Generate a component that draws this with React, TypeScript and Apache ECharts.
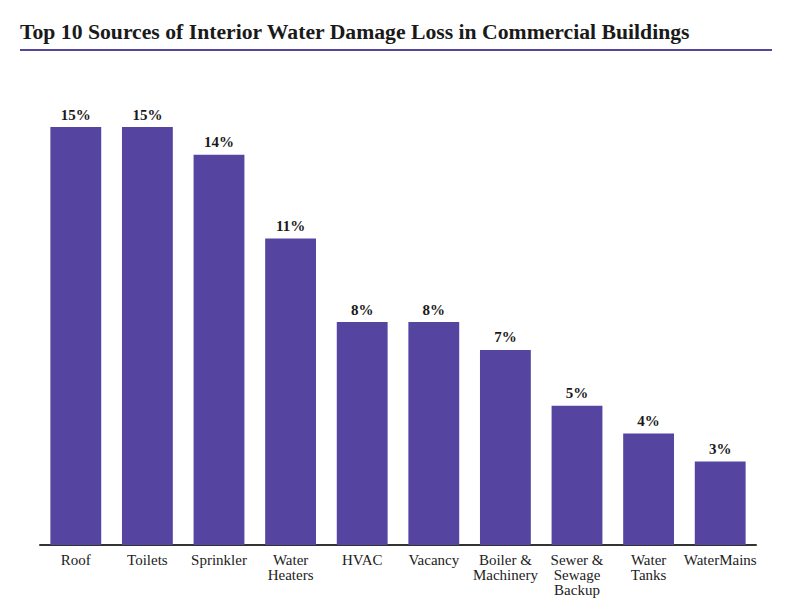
import React, { useEffect, useRef } from "react";
import * as echarts from "echarts";

const categories = [
  "Roof",
  "Toilets",
  "Sprinkler",
  "Water\nHeaters",
  "HVAC",
  "Vacancy",
  "Boiler &\nMachinery",
  "Sewer &\nSewage\nBackup",
  "Water\nTanks",
  "WaterMains",
];
const values = [15, 15, 14, 11, 8, 8, 7, 5, 4, 3];
const titleText = "Top 10 Sources of Interior Water Damage Loss in Commercial Buildings";

const PURPLE = "#5545A0";
const SERIF = "'Liberation Serif', 'DejaVu Serif', serif";

export default function App() {
  const ref = useRef<HTMLDivElement>(null);
  useEffect(() => {
    if (!ref.current) return;
    const chart = echarts.init(ref.current, null, { renderer: "svg" });
    chart.setOption({
      animation: false,
      backgroundColor: "#ffffff",
      graphic: [
        {
          type: "text",
          left: 20,
          top: 21,
          style: {
            text: titleText,
            font: `bold 21.7px ${SERIF}`,
            fill: "#1a1a1a",
          },
        },
        {
          type: "line",
          shape: { x1: 20, y1: 50, x2: 772, y2: 50 },
          style: { stroke: PURPLE, lineWidth: 2 },
        },
      ],
      grid: { left: 40, right: 36, top: 127, bottom: 65 },
      xAxis: {
        type: "category",
        data: categories,
        axisLine: { lineStyle: { color: "#333333", width: 2 } },
        axisTick: { show: false },
        axisLabel: {
          interval: 0,
          color: "#222222",
          fontFamily: SERIF,
          fontSize: 15,
          lineHeight: 15,
          margin: 7,
        },
      },
      yAxis: {
        type: "value",
        min: 0,
        max: 15,
        show: false,
        splitLine: { show: false },
      },
      series: [
        {
          type: "bar",
          data: values,
          barWidth: "71%",
          itemStyle: { color: PURPLE },
          label: {
            show: true,
            position: "top",
            distance: 5,
            formatter: "{c}%",
            color: "#1a1a1a",
            fontFamily: SERIF,
            fontWeight: "bold",
            fontSize: 15,
          },
        },
      ],
    });
    return () => chart.dispose();
  }, []);
  return (
    <div
      ref={ref}
      style={{ position: "absolute", left: 0, top: 0, width: 792, height: 610 }}
    />
  );
}
